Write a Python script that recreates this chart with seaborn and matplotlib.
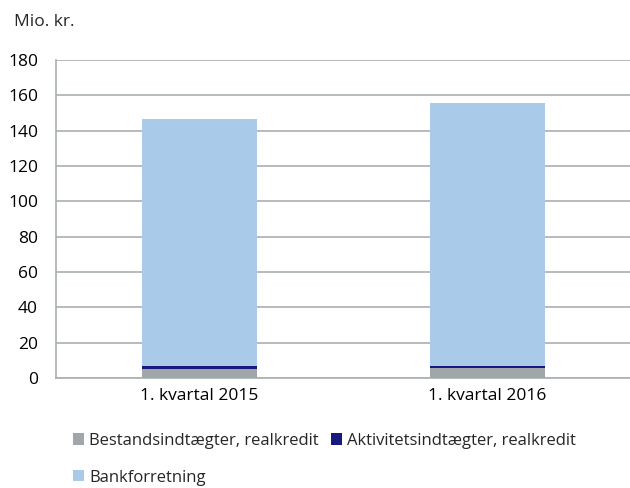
import pandas as pd
import matplotlib.pyplot as plt
import numpy as np
import seaborn as sns

quarters = ['1. kvartal 2015', '1. kvartal 2016']
bestand = [4.9, 5.7]
aktivitet = [1.9, 1.0]
bank = [139.6, 148.8]

series_names = ['Bestandsindtægter, realkredit', 'Aktivitetsindtægter, realkredit', 'Bankforretning']
colors = ['#A0A6A9', '#161A7E', '#AACAE9']

df = pd.DataFrame({'kvartal': quarters, 'bestand': bestand, 'aktivitet': aktivitet, 'bank': bank})

sns.set_style('white')
plt.rcParams['font.family'] = ['Open Sans', 'DejaVu Sans']

fig = plt.figure(figsize=(6.3, 4.88), dpi=100)
ax = fig.add_axes([0.089, 0.2254, 0.911, 0.6516])

bottom = np.zeros(len(quarters))
for col, name, c in zip(['bestand', 'aktivitet', 'bank'], series_names, colors):
    sns.barplot(data=df, x='kvartal', y=col, color=c, saturation=1, width=0.4,
                bottom=bottom, linewidth=0, ax=ax, label=name, zorder=3)
    bottom = bottom + df[col].values

ax.set_ylim(0, 180)
ax.set_yticks(range(0, 181, 20))
ax.set_xlim(-0.498, 1.495)
ax.set_xlabel('')
ax.set_ylabel('')
ax.grid(axis='y', color='#A9AFB2', linewidth=1.2, zorder=0)
for s in ['top', 'right']:
    ax.spines[s].set_visible(False)
for s in ['left', 'bottom']:
    ax.spines[s].set_color('#A9AFB2')
    ax.spines[s].set_linewidth(1.2)
ax.tick_params(axis='both', length=0, labelsize=12.5, colors='black')
ax.tick_params(axis='y', pad=13)
ax.tick_params(axis='x', pad=7)

fig.text(0.022, 0.955, 'Mio. kr.', fontsize=12.5, va='center', ha='left')

h, l = ax.get_legend_handles_labels()
order = [0, 2, 1]
ax.legend([h[i] for i in order], [l[i] for i in order], ncol=2,
          loc='upper left', bbox_to_anchor=(0.116, 0.113), bbox_transform=fig.transFigure,
          frameon=False, fontsize=12, handlelength=0.65, handleheight=0.65,
          handletextpad=0.33, columnspacing=0.7, labelspacing=1.25, borderpad=0,
          borderaxespad=0)

plt.savefig('out.png', dpi=100)
